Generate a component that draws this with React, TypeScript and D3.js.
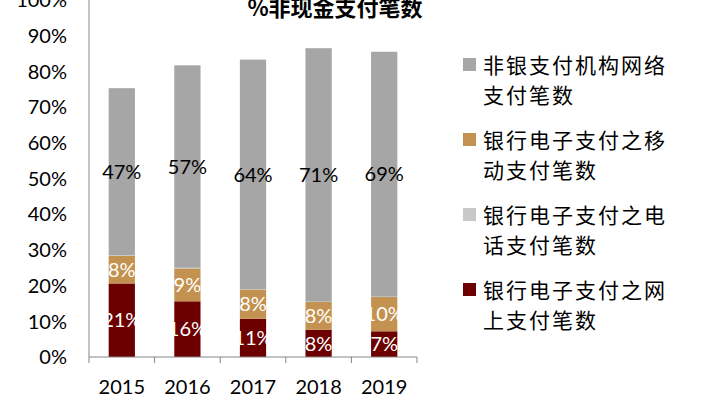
import * as d3 from "d3";

const years = ["2015", "2016", "2017", "2018", "2019"];
const onlinePay = [20.6, 15.6, 10.7, 7.6, 7.2];
const mobilePay = [7.7, 9.2, 8.2, 7.8, 9.6];
const phonePay = [0.2, 0.2, 0.1, 0.1, 0.1];
const nonBankPay = [46.8, 56.7, 64.3, 71.0, 68.6];
const yTicks = [0, 10, 20, 30, 40, 50, 60, 70, 80, 90, 100];

const title = "%非现金支付笔数";
const legendItems = [
  { lines: ["非银支付机构网络", "支付笔数"], color: "#a6a6a6" },
  { lines: ["银行电子支付之移", "动支付笔数"], color: "#c39250" },
  { lines: ["银行电子支付之电", "话支付笔数"], color: "#c8c8c8" },
  { lines: ["银行电子支付之网", "上支付笔数"], color: "#6c0000" },
];

const series = [
  { key: "online", values: onlinePay, color: "#6c0000", label: "#ffffff", show: true },
  { key: "mobile", values: mobilePay, color: "#c39250", label: "#ffffff", show: true },
  { key: "phone", values: phonePay, color: "#c8c8c8", label: "#000000", show: false },
  { key: "nonbank", values: nonBankPay, color: "#a6a6a6", label: "#000000", show: true },
];

const W = 714;
const H = 398;
const numFont = "Lato, 'Open Sans', sans-serif";
const cjkFont = "'Noto Sans CJK SC', sans-serif";

export default function App() {
  const x = d3.scaleBand().domain(years).range([89, 417]).paddingInner(0.6).paddingOuter(0.3);
  const y = d3.scaleLinear().domain([0, 100]).range([357, 0]);
  const step = x.step();
  const edges = d3.range(years.length + 1).map((i) => 89 + i * ((417 - 89) / years.length));

  const rows = years.map((yr, i) => {
    const r: any = { year: yr };
    series.forEach((s) => (r[s.key] = s.values[i]));
    return r;
  });
  const stacked = d3.stack().keys(series.map((s) => s.key))(rows);

  return (
    <svg width={W} height={H} style={{ position: "absolute", left: 0, top: 0, background: "#fff" }}>
      <text x={335} y={16} textAnchor="middle" fontFamily={cjkFont} fontWeight="bold" fontSize={22} fill="#000">
        {title}
      </text>
      {stacked.map((layer, si) => (
        <g key={layer.key}>
          {layer.map((d, i) => (
            <rect
              key={i}
              x={x(years[i])}
              width={x.bandwidth()}
              y={y(d[1])}
              height={y(d[0]) - y(d[1])}
              fill={series[si].color}
            />
          ))}
        </g>
      ))}
      {stacked.map((layer, si) =>
        series[si].show
          ? layer.map((d, i) => (
              <text
                key={layer.key + i}
                x={(x(years[i]) as number) + x.bandwidth() / 2}
                y={y((d[0] + d[1]) / 2)}
                dy="0.36em"
                textAnchor="middle"
                fontFamily={numFont}
                fontSize={20}
                fill={series[si].label}
              >
                {Math.round(d[1] - d[0]) + "%"}
              </text>
            ))
          : null
      )}
      <line x1={89} x2={89} y1={0} y2={357} stroke="#868686" />
      <line x1={89} x2={417} y1={357} y2={357} stroke="#868686" />
      {edges.map((ex, i) => (
        <line key={i} x1={ex} x2={ex} y1={357} y2={363} stroke="#868686" />
      ))}
      {yTicks.map((t) => (
        <text key={t} x={67} y={y(t)} dy="0.36em" textAnchor="end" fontFamily={numFont} fontSize={20} fill="#000">
          {t + "%"}
        </text>
      ))}
      {years.map((yr) => (
        <text
          key={yr}
          x={(x(yr) as number) + x.bandwidth() / 2}
          y={387}
          dy="0.36em"
          textAnchor="middle"
          fontFamily={numFont}
          fontSize={20}
          fill="#000"
        >
          {yr}
        </text>
      ))}
      {legendItems.map((item, i) => (
        <g key={i} transform={`translate(463, ${65 + i * 75})`}>
          <rect x={0} y={-7} width={13} height={13} fill={item.color} />
          {item.lines.map((ln, j) => (
            <text
              key={j}
              x={20}
              y={j * 30}
              dy="0.36em"
              fontFamily={cjkFont}
              fontSize={21}
              letterSpacing={2}
              fill="#000"
            >
              {ln}
            </text>
          ))}
        </g>
      ))}
    </svg>
  );
}
